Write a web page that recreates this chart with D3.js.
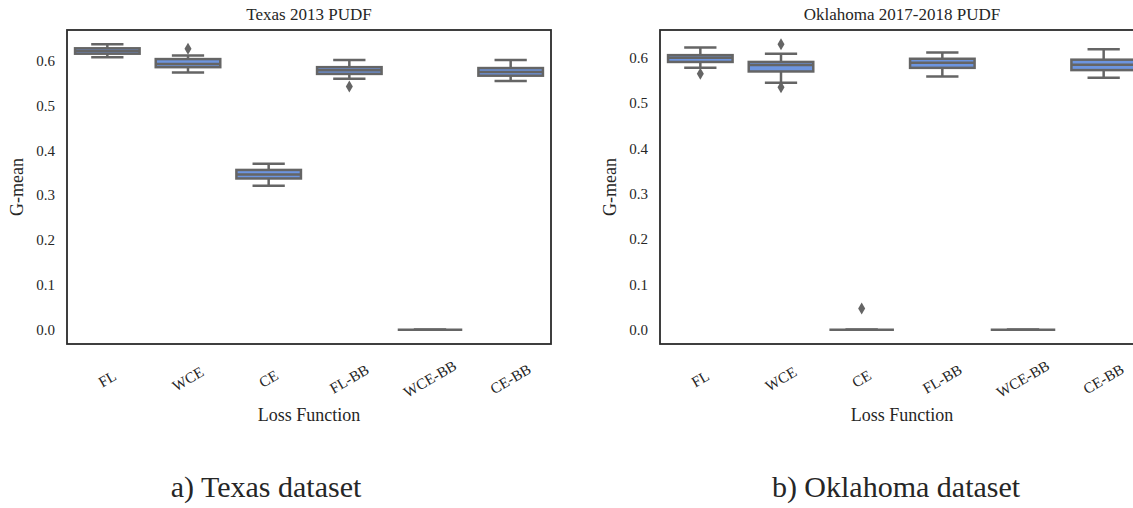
<!DOCTYPE html>
<html>
<head>
<meta charset="utf-8">
<script src="https://cdnjs.cloudflare.com/ajax/libs/d3/7.8.5/d3.min.js"></script>
<style>
	body { margin: 0; background: #fff; }
	text { font-family: "Liberation Serif", "Times New Roman", serif; fill: #262626; }
</style>
</head>
<body>
<svg id="svg" width="1133" height="508"></svg>
<script>
var categories = ["FL", "WCE", "CE", "FL-BB", "WCE-BB", "CE-BB"];
var yTicks = [0.0, 0.1, 0.2, 0.3, 0.4, 0.5, 0.6];

// Texas 2013 PUDF
var texasLow  = [0.607, 0.573, 0.321, 0.559, 0, 0.554];
var texasQ1   = [0.615, 0.585, 0.337, 0.570, 0, 0.566];
var texasMed  = [0.621, 0.592, 0.346, 0.578, 0, 0.574];
var texasQ3   = [0.627, 0.603, 0.356, 0.585, 0, 0.583];
var texasHigh = [0.636, 0.611, 0.370, 0.601, 0, 0.601];
var texasOut  = [[], [0.626], [], [0.542], [], []];

// Oklahoma 2017-2018 PUDF
var oklaLow  = [0.578, 0.545, 0, 0.559, 0, 0.556];
var oklaQ1   = [0.591, 0.570, 0, 0.578, 0, 0.573];
var oklaMed  = [0.600, 0.584, 0, 0.589, 0, 0.585];
var oklaQ3   = [0.606, 0.591, 0, 0.598, 0, 0.596];
var oklaHigh = [0.623, 0.609, 0, 0.612, 0, 0.619];
var oklaOut  = [[0.565], [0.630, 0.535], [0.047], [], [], []];

var fillColor = "#6d95e0";
var lineColor = "#656565";

var svg = d3.select("#svg");
svg.append("rect").attr("width", 1133).attr("height", 508).attr("fill", "#fff");

function drawPanel(opts) {
	var left = opts.left, top = 30, width = 484, height = 314;
	var g = svg.append("g");

	// matplotlib style 5% padding around the data range
	var all = opts.low.concat(opts.high);
	opts.out.forEach(function(o){ all = all.concat(o); });
	var lo = d3.min(all), hi = d3.max(all), pad = (hi - lo) * 0.05;

	var x = d3.scaleBand().domain(categories).range([left, left + width]);
	var y = d3.scaleLinear().domain([lo - pad, hi + pad]).range([top + height, top]);

	// y axis labels, no tick marks
	var yAxis = d3.axisLeft(y).tickValues(yTicks).tickFormat(d3.format(".1f")).tickSize(0).tickPadding(12);
	var ya = g.append("g").attr("transform", "translate(" + left + ",0)").call(yAxis);
	ya.select(".domain").remove();
	ya.selectAll("text").attr("font-size", 15).attr("font-family", "Liberation Serif").attr("fill", "#262626");

	var boxW = x.bandwidth() * 0.8;
	categories.forEach(function(c, i) {
		var cx = x(c) + x.bandwidth() / 2;
		var b = g.append("g");
		// whiskers
		b.append("line").attr("x1", cx).attr("x2", cx).attr("y1", y(opts.q3[i])).attr("y2", y(opts.high[i]))
			.attr("stroke", lineColor).attr("stroke-width", 2.5);
		b.append("line").attr("x1", cx).attr("x2", cx).attr("y1", y(opts.q1[i])).attr("y2", y(opts.low[i]))
			.attr("stroke", lineColor).attr("stroke-width", 2.5);
		// caps
		[opts.low[i], opts.high[i]].forEach(function(v) {
			b.append("line").attr("x1", cx - boxW / 4).attr("x2", cx + boxW / 4).attr("y1", y(v)).attr("y2", y(v))
				.attr("stroke", lineColor).attr("stroke-width", 2.5);
		});
		// box
		b.append("rect").attr("x", cx - boxW / 2).attr("width", boxW)
			.attr("y", y(opts.q3[i])).attr("height", y(opts.q1[i]) - y(opts.q3[i]))
			.attr("fill", fillColor).attr("stroke", lineColor).attr("stroke-width", 2.5);
		// median
		b.append("line").attr("x1", cx - boxW / 2).attr("x2", cx + boxW / 2).attr("y1", y(opts.med[i])).attr("y2", y(opts.med[i]))
			.attr("stroke", lineColor).attr("stroke-width", 2.5);
		// outliers (thin diamonds)
		opts.out[i].forEach(function(v) {
			var py = y(v);
			b.append("path").attr("d", "M" + cx + "," + (py - 6) + "L" + (cx + 3.5) + "," + py + "L" + cx + "," + (py + 6) + "L" + (cx - 3.5) + "," + py + "Z")
				.attr("fill", lineColor);
		});
	});

	// frame
	g.append("rect").attr("x", left).attr("y", top).attr("width", width).attr("height", height)
		.attr("fill", "none").attr("stroke", "#2b2b2b").attr("stroke-width", 1.8);

	// rotated category labels, all centred on the same line below the frame
	categories.forEach(function(c) {
		var cx = x(c) + x.bandwidth() / 2;
		var cy = top + height + 35;
		g.append("text").text(c).attr("font-size", 15).attr("text-anchor", "middle")
			.attr("dominant-baseline", "central")
			.attr("x", cx).attr("y", cy).attr("transform", "rotate(-30," + cx + "," + cy + ")");
	});

	g.append("text").text("Loss Function").attr("x", left + width / 2).attr("y", 421)
		.attr("text-anchor", "middle").attr("font-size", 18);
	g.append("text").text("G-mean").attr("transform", "translate(" + (left - 44) + "," + (top + height / 2) + ") rotate(-90)")
		.attr("text-anchor", "middle").attr("font-size", 18);
	g.append("text").text(opts.title).attr("x", left + width / 2).attr("y", 20)
		.attr("text-anchor", "middle").attr("font-size", 17);

	svg.append("text").text(opts.caption).attr("x", opts.capX).attr("y", 497)
		.attr("text-anchor", "middle").attr("font-size", 30).attr("fill", "#111");
}

drawPanel({ id: 1, left: 67, title: "Texas 2013 PUDF", caption: "a) Texas dataset", capX: 266,
	low: texasLow, q1: texasQ1, med: texasMed, q3: texasQ3, high: texasHigh, out: texasOut });
drawPanel({ id: 2, left: 660, title: "Oklahoma 2017-2018 PUDF", caption: "b) Oklahoma dataset", capX: 896,
	low: oklaLow, q1: oklaQ1, med: oklaMed, q3: oklaQ3, high: oklaHigh, out: oklaOut });
</script>
</body>
</html>
